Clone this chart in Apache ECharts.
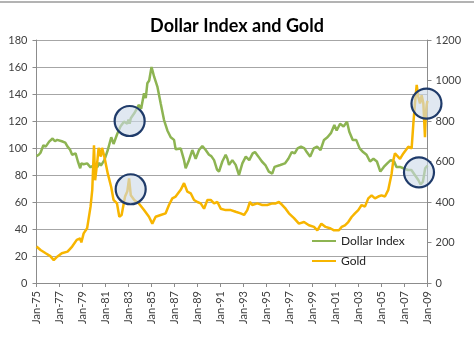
<!DOCTYPE html>
<html>
<head>
<meta charset="utf-8">
<script src="https://cdn.jsdelivr.net/npm/echarts@6/dist/echarts.min.js"></script>
<style>html,body{margin:0;padding:0;background:#fff}#c{width:474px;height:341px}</style>
</head>
<body>
<div id="c"></div>
<script>
// ---- data ----
const titleText = 'Dollar Index and Gold';
const xTickYears = [1975, 1977, 1979, 1981, 1983, 1985, 1987, 1989, 1991, 1993, 1995, 1997, 1999, 2001, 2003, 2005, 2007, 2009];
const seriesNames = ['Dollar Index', 'Gold'];
// [decimal year, index value]
const dollarIndex = [
  [1975.0,94],[1975.2,95],[1975.35,96.5],[1975.6,102],[1975.8,101],[1976.1,104.7],[1976.4,107],[1976.6,105],[1976.8,106],
  [1977.2,105],[1977.5,104],[1977.7,101],[1977.9,99],[1978.1,95],[1978.4,96],[1978.6,90],[1978.8,85],[1978.9,88.6],
  [1979.1,88],[1979.4,88.6],[1979.7,85.7],[1980.0,87.4],[1980.3,86],[1980.45,89],[1980.6,87],[1980.9,91],
  [1981.2,98.5],[1981.5,108],[1981.7,103],[1982.0,110],[1982.3,116],[1982.6,119.5],[1982.9,118],[1983.0,121],
  [1983.1,118],[1983.2,122],[1983.5,125.7],[1983.9,132],[1984.1,129],[1984.35,140.5],[1984.5,137],[1984.64,148],
  [1984.8,150],[1985.0,160],[1985.1,157],[1985.22,153],[1985.51,145.5],[1985.8,133],[1986.09,120.7],[1986.2,122],
  [1986.38,113],[1986.67,108],[1986.96,106],[1987.1,99],[1987.25,98.5],[1987.54,99.7],[1987.83,91],[1987.97,85],
  [1988.26,91],[1988.55,98.5],[1988.84,92],[1989.13,98.5],[1989.42,101.5],[1989.71,98.5],[1990.0,95],[1990.2,94],
  [1990.44,91],[1990.7,84],[1990.87,82.5],[1991.16,90],[1991.45,95],[1991.6,92],[1991.74,87.5],[1992.03,91],
  [1992.32,87.5],[1992.61,80],[1992.75,79],[1992.9,88.6],[1993.2,93.6],[1993.5,91],[1993.8,96],[1994.0,97],
  [1994.3,93.6],[1994.6,90],[1994.9,87.4],[1995.2,82.5],[1995.5,81],[1995.7,86],[1996.2,87.4],[1996.6,88.6],
  [1996.9,92],[1997.2,97],[1997.45,96],[1997.7,99.7],[1998.0,101],[1998.3,99.7],[1998.5,97],[1998.8,93.6],
  [1999.1,99.7],[1999.4,101],[1999.7,98.5],[2000.0,106],[2000.3,108],[2000.6,111],[2000.9,117],[2001.1,113],
  [2001.4,118],[2001.7,116],[2002.0,119.5],[2002.2,112],[2002.5,106],[2002.8,106],[2003.1,99.7],[2003.4,97],
  [2003.7,95],[2004.0,90],[2004.3,92],[2004.6,90],[2004.9,82.5],[2005.2,86],[2005.5,88.6],[2005.8,91],
  [2006.1,90],[2006.3,86],[2006.6,86],[2006.9,85],[2007.3,83.7],[2007.6,83.7],[2007.9,80],[2008.2,76.3],
  [2008.4,73],[2008.6,75],[2008.8,85],[2009.0,87]
];
// [decimal year, gold price USD]
const gold = [
  [1975.0,180],[1975.35,163],[1975.8,147],[1976.2,133],[1976.5,113],[1976.8,130],[1977.2,147],[1977.7,155],
  [1978.1,180],[1978.5,213],[1978.8,220],[1978.9,200],[1979.1,245],[1979.4,270],[1979.7,377],[1979.85,460],
  [1980.0,680],[1980.1,507],[1980.3,607],[1980.4,667],[1980.6,624],[1980.7,667],[1980.9,624],[1981.2,540],
  [1981.5,473],[1981.7,410],[1982.0,393],[1982.2,327],[1982.4,336],[1982.7,427],[1982.9,453],[1983.05,517],
  [1983.2,433],[1983.5,410],[1983.9,393],[1984.35,360],[1984.78,327],[1985.07,293],[1985.36,327],[1985.8,336],
  [1986.23,344],[1986.52,385],[1986.81,418],[1987.1,427],[1987.54,460],[1987.83,493],[1988.12,451],[1988.41,443],
  [1988.7,410],[1988.99,400],[1989.28,393],[1989.57,367],[1989.86,410],[1990.15,410],[1990.44,393],[1990.73,400],
  [1991.02,367],[1991.45,360],[1991.9,360],[1992.32,352],[1992.75,344],[1993.05,336],[1993.33,360],[1993.56,400],
  [1993.76,385],[1994.2,393],[1994.63,385],[1995.07,385],[1995.5,393],[1995.8,393],[1996.08,400],[1996.37,385],
  [1996.66,367],[1996.95,344],[1997.39,320],[1997.82,293],[1998.26,301],[1998.69,285],[1999.13,277],[1999.42,260],
  [1999.77,293],[2000.14,277],[2000.58,269],[2000.87,260],[2001.3,260],[2001.53,277],[2001.82,285],[2002.11,301],
  [2002.4,326],[2002.69,344],[2002.98,360],[2003.27,385],[2003.56,377],[2003.85,418],[2004.14,433],[2004.43,418],
  [2004.72,427],[2005.0,433],[2005.3,427],[2005.59,460],[2005.88,540],[2006.03,607],[2006.17,640],[2006.32,632],
  [2006.61,613],[2006.9,640],[2007.33,673],[2007.62,665],[2007.77,787],[2007.91,887],[2008.06,978],[2008.2,920],
  [2008.35,887],[2008.49,927],[2008.64,887],[2008.78,720],[2008.85,833],[2008.93,880],[2009.0,900]
];
// highlighted spots (circled in the original), [year, value]
const dollarHighlights = [[1983.1, 120], [2008.26, 82]];
const goldHighlights = [[1983.19, 463], [2008.91, 886]];

const chart = echarts.init(document.getElementById('c'), null, {renderer: 'canvas'});
const FONT = 'Lato, "Liberation Sans", sans-serif';
const txt = '#404040';
const axisGray = '#8c8c8c';
const circleStyle = {color: 'rgba(205,218,232,0.62)', borderColor: '#1F3B6A', borderWidth: 2.2};
function hl(arr, size) {
  return {symbol: 'circle', symbolSize: size, silent: true, label: {show: false}, itemStyle: circleStyle,
    data: arr.map(p => ({coord: p}))};
}
chart.setOption({
  animation: false,
  backgroundColor: '#fff',
  textStyle: {fontFamily: FONT},
  title: {text: titleText, left: 'center', top: 12,
    textStyle: {fontFamily: FONT, fontSize: 18, fontWeight: 'bold', color: '#000'}},
  legend: {orient: 'vertical', left: 312, top: 235, padding: 0, itemWidth: 24, itemHeight: 2, icon: 'rect', itemGap: 8,
    textStyle: {fontFamily: FONT, fontSize: 12, color: '#222'}, data: seriesNames},
  grid: {left: 36.5, right: 46.5, top: 40, bottom: 58, containLabel: false},
  xAxis: {type: 'value', min: xTickYears[0], max: xTickYears[xTickYears.length - 1], interval: 2,
    axisLine: {lineStyle: {color: axisGray, width: 1}},
    axisTick: {show: true, length: 4, lineStyle: {color: axisGray}},
    splitLine: {show: false},
    axisLabel: {rotate: 90, margin: 8, fontSize: 11, color: txt, fontFamily: FONT,
      formatter: v => 'Jan-' + String(v % 100).padStart(2, '0')}},
  yAxis: [
    {type: 'value', min: 0, max: 180, interval: 20, position: 'left',
      axisLine: {show: true, lineStyle: {color: axisGray}},
      axisTick: {show: true, length: 4, lineStyle: {color: axisGray}},
      splitLine: {show: true, lineStyle: {color: '#a6a6a6', width: 1}},
      axisLabel: {margin: 9, fontSize: 11, color: txt, fontFamily: FONT}},
    {type: 'value', min: 0, max: 1200, interval: 200, position: 'right',
      axisLine: {show: true, lineStyle: {color: axisGray}},
      axisTick: {show: true, length: 4, lineStyle: {color: axisGray}},
      splitLine: {show: false},
      axisLabel: {margin: 8, fontSize: 11, color: txt, fontFamily: FONT, formatter: v => String(v)}}
  ],
  series: [
    {name: seriesNames[0], type: 'line', yAxisIndex: 0, data: dollarIndex, showSymbol: false,
      lineStyle: {color: '#8DB452', width: 2.5}, itemStyle: {color: '#8DB452'},
      markPoint: hl(dollarHighlights, 30)},
    {name: seriesNames[1], type: 'line', yAxisIndex: 1, data: gold, showSymbol: false,
      lineStyle: {color: '#F7B500', width: 2.5}, itemStyle: {color: '#F7B500'},
      markPoint: hl(goldHighlights, 30)}
  ],
  graphic: [{type: 'line', shape: {x1: 0, y1: 2, x2: 474, y2: 2}, style: {stroke: '#9a9a9a', lineWidth: 1.5}, silent: true}]
});
</script>
</body>
</html>
